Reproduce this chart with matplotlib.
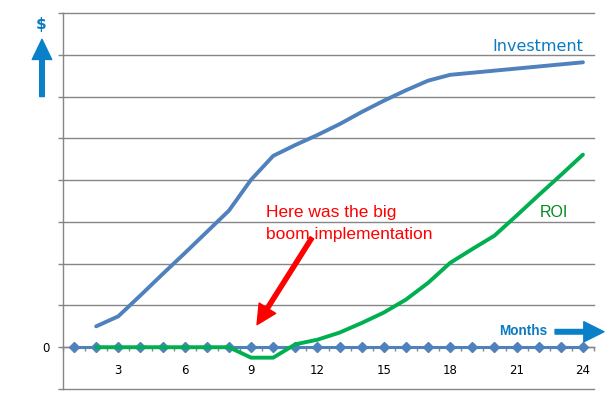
import matplotlib
matplotlib.use("Agg")
import matplotlib.pyplot as plt
import numpy as np

months = list(range(1, 25))
investment = [np.nan, 0.50, 0.74, 1.24, 1.75, 2.25, 2.76, 3.27, 4.01, 4.58, 4.84, 5.08,
              5.34, 5.63, 5.90, 6.15, 6.38, 6.52, 6.57, 6.62, 6.67, 6.72, 6.77, 6.82]
roi = [np.nan, 0.0, 0.0, 0.0, 0.0, 0.0, 0.0, 0.0, -0.25, -0.25, 0.07, 0.18,
       0.35, 0.58, 0.83, 1.14, 1.54, 2.02, 2.35, 2.67, 3.15, 3.64, 4.12, 4.61]
baseline = [0.0] * 24
xtick_labels = ["3", "6", "9", "12", "15", "18", "21", "24"]
xtick_pos = [3, 6, 9, 12, 15, 18, 21, 24]

BLUE = "#4F81BD"
GREEN = "#00B050"
GRID = "#868686"
TXTBLUE = "#0A7BC2"

fig = plt.figure(figsize=(6.08, 4.04), dpi=100)
ax = fig.add_axes([63 / 608, 15 / 404, 531 / 608, 376 / 404])
ax.set_xlim(0.5, 24.5)
ax.set_ylim(-1, 8)

# grid
ax.set_yticks(range(-1, 9))
ax.set_yticklabels(["" if v != 0 else "0" for v in range(-1, 9)])
ax.yaxis.grid(True, color=GRID, linewidth=1.0)
for gl in ax.get_ygridlines():
    gl.set_clip_on(False)
ax.set_axisbelow(True)

for s in ["top", "right"]:
    ax.spines[s].set_visible(False)
ax.spines["left"].set_color(GRID)
ax.spines["left"].set_linewidth(1.0)
ax.spines["bottom"].set_position(("data", 0))
ax.spines["bottom"].set_color(GRID)
ax.spines["bottom"].set_linewidth(1.0)

ax.tick_params(axis="y", direction="out", length=3.5, color=GRID, width=1.0,
               labelsize=8.5, pad=6)
ax.set_xticks(xtick_pos)
ax.set_xticklabels(xtick_labels)
ax.set_xticks(np.arange(0.5, 25, 1.0), minor=True)
ax.tick_params(axis="x", which="major", length=0, labelsize=8.5, pad=12)
ax.tick_params(axis="x", which="minor", direction="out", length=3, color=GRID, width=1.0)

# series
ax.plot(months, baseline, color=BLUE, linewidth=2.2, marker="D", markersize=4.6,
        markerfacecolor=BLUE, markeredgecolor=BLUE, zorder=3, clip_on=False)
ax.plot(months, investment, color=BLUE, linewidth=2.8, zorder=4, solid_capstyle="round")
ax.plot(months, roi, color=GREEN, linewidth=2.8, zorder=5, solid_capstyle="round")

# labels
ax.text(24.0, 7.2, "Investment", color=TXTBLUE, fontsize=11.5, family="DejaVu Sans",
        ha="right", va="center")
ax.text(22.69, 3.22, "ROI", color="#008A1E", fontsize=11.5, family="Liberation Sans",
        ha="center", va="center")
ax.text(21.31, 0.39, "Months", color=TXTBLUE, fontsize=9.8, fontweight="bold",
        family="Liberation Sans", ha="center", va="center")
ax.text(9.67, 2.96, "Here was the big\nboom implementation", color="#FF0000",
        fontsize=12.5, family="Liberation Sans", ha="left", va="center", linespacing=1.53)
ax.text(-0.49, 7.73, "$", color=TXTBLUE, fontsize=11, fontweight="bold",
        family="DejaVu Sans", ha="center", va="center", clip_on=False)

# arrows
ax.annotate("", xy=(9.27, 0.54), xytext=(11.75, 2.62),
            arrowprops=dict(arrowstyle="simple,head_width=1.4,head_length=1.4,tail_width=0.3",
                            mutation_scale=10, color="#FF0000", shrinkA=0, shrinkB=0))
ax.annotate("", xy=(-0.45, 7.37), xytext=(-0.45, 6.0), annotation_clip=False,
            arrowprops=dict(arrowstyle="simple,head_width=1.4,head_length=1.45,tail_width=0.33",
                            mutation_scale=10, color="#0A80C8", shrinkA=0, shrinkB=0))
ax.annotate("", xy=(24.95, 0.37), xytext=(22.74, 0.37), annotation_clip=False,
            arrowprops=dict(arrowstyle="simple,head_width=1.45,head_length=1.45,tail_width=0.33",
                            mutation_scale=10, color="#0A80C8", shrinkA=0, shrinkB=0))

fig.savefig("out.png", dpi=100)
